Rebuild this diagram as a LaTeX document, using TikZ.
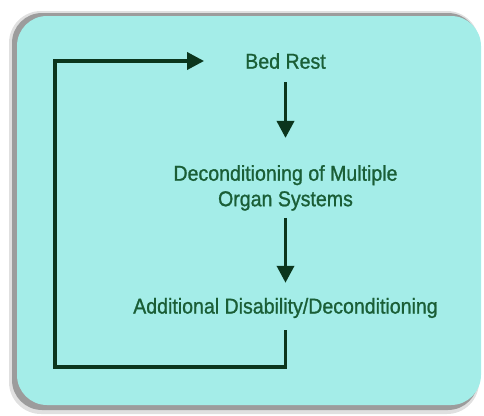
\documentclass[tikz,border=0pt]{standalone}
\usepackage{fontspec}
\setmainfont{Liberation Sans}[FakeStretch=0.91, FakeBold=1]
\usepackage{xcolor}
\usetikzlibrary{arrows.meta}

\definecolor{panelcyan}{HTML}{A4EDE8}
\definecolor{textgreen}{HTML}{1A5E36}
\definecolor{linegreen}{HTML}{0B361D}

\tikzset{
  lbl/.style={text=textgreen, inner sep=0pt, align=center,
    font=\fontsize{21.5}{25.5}\selectfont},
  flow/.style={draw=linegreen, line width=3.6pt},
  flowarrow/.style={flow, -{Triangle[length=17pt,width=17pt]}}
}

\begin{document}
\begin{tikzpicture}[x=1pt, y=-1pt]
    \useasboundingbox (0,0) rectangle (484,415);

    % Panel with shadow
    \fill[black, opacity=0.12, rounded corners=32pt] (9,11) rectangle (479,414);
    \fill[black, opacity=0.30, rounded corners=30pt] (12,13) rectangle (478,410);
    \fill[panelcyan, rounded corners=30pt] (17,16) rectangle (481,405);

    % Steps
    \node[lbl] (bed) at (285.5,61) {Bed Rest};
    \node[lbl] (decon) at (285.5,187.9) {Deconditioning of Multiple\\Organ Systems};
    \node[lbl] (adddis) at (285.5,308) {Additional Disability/Deconditioning};

    % Arrows down
    \draw[flowarrow, shorten <=13pt, shorten >=27pt] (bed) -- (decon);
    \draw[flowarrow, shorten <=7pt, shorten >=15pt] (decon) -- (adddis);

    % Feedback loop
    \coordinate (loopcorner) at (55,367);
    \draw[flowarrow, shorten <=12pt, shorten >=41pt] (adddis.south) |- (loopcorner) |- (bed.west);
\end{tikzpicture}
\end{document}
